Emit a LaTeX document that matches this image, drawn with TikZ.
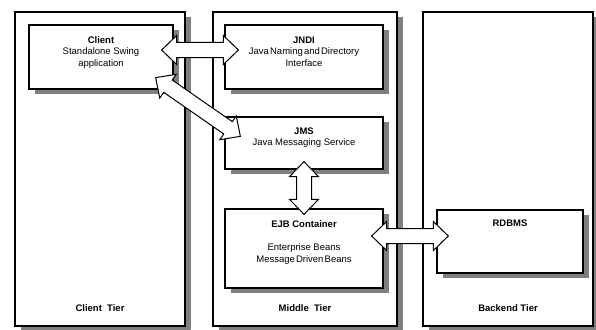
\documentclass[tikz,border=0pt]{standalone}
\usepackage{fontspec}
\setmainfont{Liberation Sans}
\usetikzlibrary{calc,shadows}

\definecolor{shadowgray}{HTML}{808080}

% block-arrow geometry: head length, head half-width, shaft half-width
\newcommand\arrL{15pt}
\newcommand\arrH{14.5pt}
\newcommand\arrS{7.5pt}
% double-headed block arrow between two named coordinates
\newcommand\dblarrow[2]{%
  \coordinate (#1-h) at ($(#1)!\arrL!(#2)$);
  \coordinate (#2-h) at ($(#2)!\arrL!(#1)$);
  \draw[blockarrow] (#1)
    -- ($(#1-h)!\arrH!90:(#2)$) -- ($(#1-h)!\arrS!90:(#2)$)
    -- ($(#2-h)!\arrS!-90:(#1)$) -- ($(#2-h)!\arrH!-90:(#1)$)
    -- (#2)
    -- ($(#2-h)!\arrH!90:(#1)$) -- ($(#2-h)!\arrS!90:(#1)$)
    -- ($(#1-h)!\arrS!-90:(#2)$) -- ($(#1-h)!\arrH!-90:(#2)$)
    -- cycle;}
% narrow word gap used in some labels
\newcommand\tsp{\hspace{1.2pt}}

\tikzset{
  boxshadow/.style={drop shadow={shadow xshift=6pt, shadow yshift=-5pt,
      fill=shadowgray, opacity=1}},
  tier/.style={draw, line width=1.3pt, fill=white, inner sep=0pt,
      boxshadow, minimum height=314pt},
  comp/.style={draw, line width=1.3pt, fill=white, inner sep=0pt, boxshadow},
  lbl/.style={inner sep=0pt, align=center,
      font=\fontsize{9.5}{11.5}\selectfont},
  tierlbl/.style={lbl, font=\fontsize{9.5}{11.5}\selectfont\bfseries},
  blockarrow/.style={draw, fill=white, line width=1pt, line join=miter},
}

\begin{document}
\begin{tikzpicture}[x=1pt, y=-1pt]
\clip (0,0) rectangle (596,329);
\fill[white] (0,0) rectangle (596,329);

% tiers
\node[tier, minimum width=170pt] (clienttier)  at (100,169) {};
\node[tier, minimum width=184pt] (middletier)  at (305,169) {};
\node[tier, minimum width=170pt] (backendtier) at (508,169) {};

\node[tierlbl] (clienttierlbl)  at ([yshift=19pt]clienttier.south)  {Client\ \ Tier};
\node[tierlbl] (middletierlbl)  at ([yshift=19pt]middletier.south)  {Middle\ \ Tier};
\node[tierlbl] (backendtierlbl) at ([yshift=19pt]backendtier.south) {Backend Tier};

% components
\node[comp, minimum width=144pt, minimum height=64pt] (client) at (101,57) {};
\node[comp, minimum width=158pt, minimum height=64pt] (jndi)   at (304,57) {};
\node[comp, minimum width=158pt, minimum height=52pt] (jms)    at (304,143) {};
\node[comp, minimum width=158pt, minimum height=79pt] (ejb)    at (304,248.5) {};
\node[comp, minimum width=146pt, minimum height=63pt] (rdbms)  at (510,241.5) {};

\node[lbl, anchor=north] (clientlbl) at ([yshift=-12pt]client.north)
  {\textbf{Client}\\Standalone Swing\\application};
\node[lbl, anchor=north] (jndilbl) at ([yshift=-12pt]jndi.north)
  {\textbf{JNDI}\\Java\tsp Naming\tsp and\tsp Directory\\Interface};
\node[lbl, anchor=north] (jmslbl) at ([yshift=-11pt]jms.north)
  {\textbf{JMS}\\Java Messaging Service};
\node[lbl, anchor=north] (ejblbl) at ([yshift=-12pt]ejb.north)
  {\textbf{EJB Container}\\[12pt]Enterprise Beans\\Message\tsp Driven\tsp Beans};
\node[lbl, anchor=north] (rdbmslbl) at ([yshift=-10pt]rdbms.north)
  {\textbf{RDBMS}};

% arrow end points, set relative to the components they join
\coordinate (c2j) at ($(client.east)+(-12,-7)$);
\coordinate (j2c) at ($(jndi.west)+(14,-7)$);
\coordinate (c2m) at ($(client.south east)+(-18,-12)$);
\coordinate (m2c) at ($(jms.north west)+(16,20)$);
\coordinate (m2e) at ($(jms.south)+(0,-8)$);
\coordinate (e2m) at ($(ejb.north)+(0,6)$);
\coordinate (e2r) at ($(ejb.east)+(-12,-12.5)$);
\coordinate (r2e) at ($(rdbms.west)+(12,-5.5)$);

\dblarrow{c2j}{j2c}
\dblarrow{c2m}{m2c}
\dblarrow{m2e}{e2m}
\dblarrow{e2r}{r2e}
\end{tikzpicture}
\end{document}
